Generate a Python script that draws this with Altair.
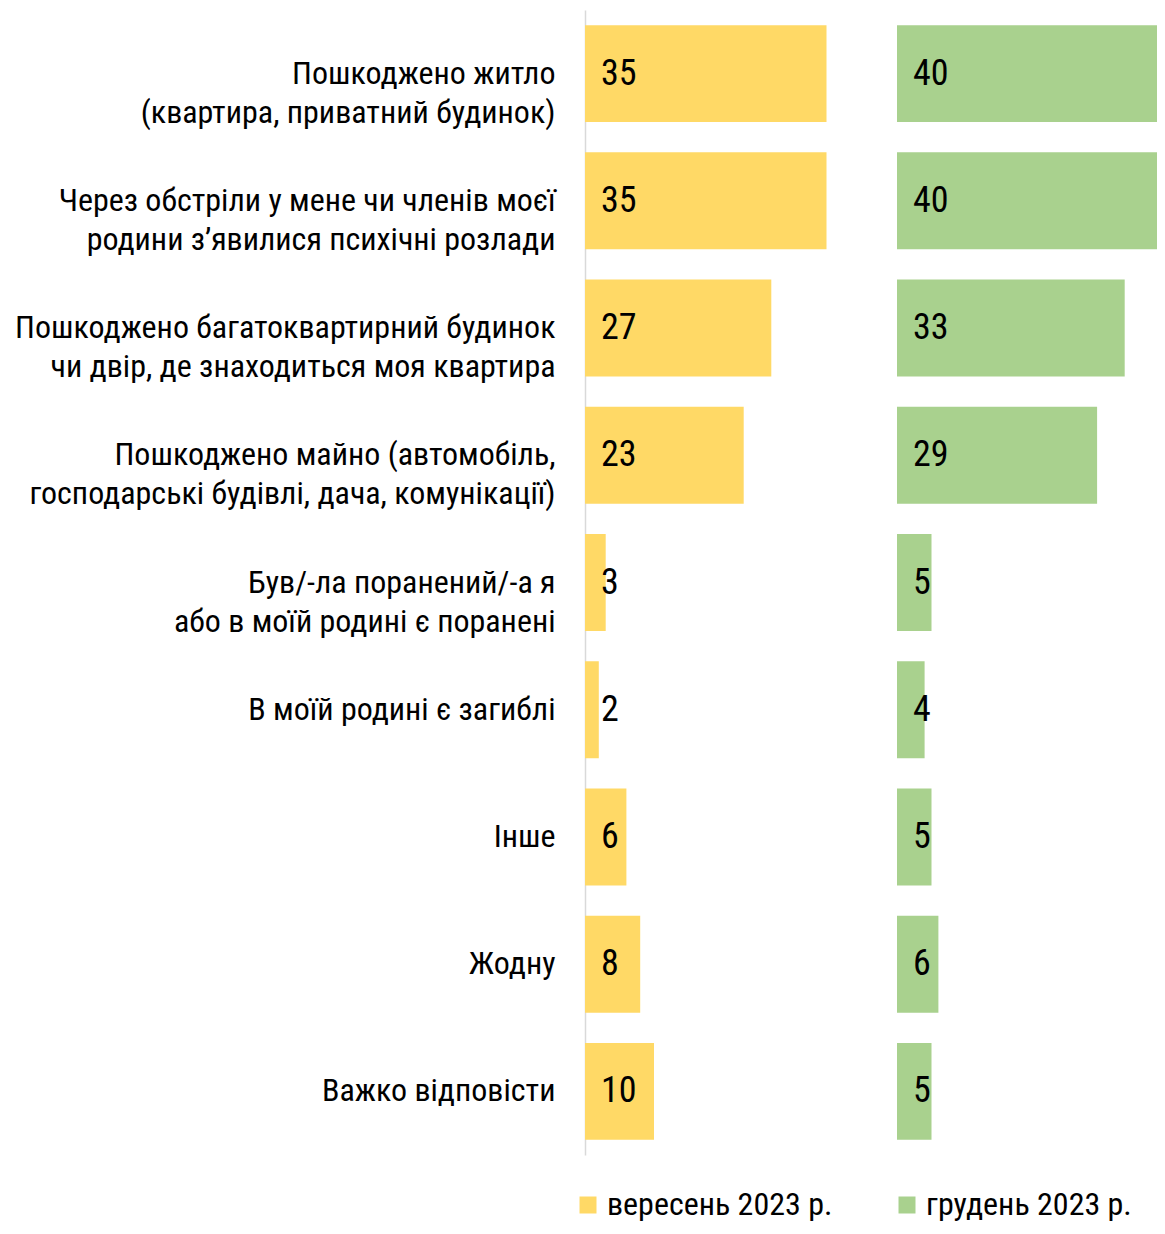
import altair as alt
import pandas as pd

categories = [
    "Пошкоджено житло\n(квартира, приватний будинок)",
    "Через обстріли у мене чи членів моєї\nродини з’явилися психічні розлади",
    "Пошкоджено багатоквартирний будинок\nчи двір, де знаходиться моя квартира",
    "Пошкоджено майно (автомобіль,\nгосподарські будівлі, дача, комунікації)",
    "Був/-ла поранений/-а я\nабо в моїй родині є поранені",
    "В моїй родині є загиблі",
    "Інше",
    "Жодну",
    "Важко відповісти",
]
september = [35, 35, 27, 23, 3, 2, 6, 8, 10]
december = [40, 40, 33, 29, 5, 4, 5, 6, 5]
periods = ["вересень 2023 р.", "грудень 2023 р."]
colors = ["#FFD966", "#A9D18E"]

rows = []
for c, s, d in zip(categories, september, december):
    rows.append({"category": c, "period": periods[0], "value": s, "panel": 0})
    rows.append({"category": c, "period": periods[1], "value": d, "panel": 1})
df = pd.DataFrame(rows)

FONT = "Liberation Sans Narrow, Roboto Condensed, Roboto, sans-serif"
PX_PER_UNIT = 6.9
PANEL_GAP_UNITS = 312 / PX_PER_UNIT   # where the second panel starts
PLOT_W = 572
PLOT_H = 1145

yscale = alt.Scale(domain=categories, paddingInner=0.238, paddingOuter=0.119)
xscale = alt.Scale(domain=[0, PLOT_W / PX_PER_UNIT], nice=False, zero=True)

color = alt.Color(
    "period:N",
    scale=alt.Scale(domain=periods, range=colors),
    legend=alt.Legend(
        orient="none", legendX=-13, legendY=1179, direction="horizontal",
        title=None, symbolType="square", symbolSize=289, symbolStrokeWidth=0,
        labelFontSize=32, labelFont=FONT, labelColor="#000", labelOffset=3,
        columnPadding=58, labelLimit=400, padding=0,
    ),
)

yaxis = alt.Axis(
    title=None, ticks=False, grid=False, domainColor="#D9D9D9", domainWidth=1.5,
    labelPadding=30, labelAlign="right", labelBaseline="middle",
    labelFont=FONT, labelFontSize=32, labelLineHeight=39, labelColor="#000",
    labelLimit=1000, labelExpr="split(datum.label, '\\n')",
)

base = alt.Chart(df).transform_calculate(
    start=f"datum.panel * {PANEL_GAP_UNITS}",
    end=f"datum.panel * {PANEL_GAP_UNITS} + datum.value",
)

bars = base.mark_bar(clip=True).encode(
    y=alt.Y("category:N", scale=yscale, axis=yaxis, sort=None),
    x=alt.X("start:Q", scale=xscale, axis=None),
    x2="end:Q",
    color=color,
)

text = base.mark_text(
    align="left", baseline="middle", dx=16, font=FONT, fontSize=36, color="#000"
).encode(
    y=alt.Y("category:N", scale=yscale, sort=None),
    x=alt.X("start:Q", scale=xscale),
    text="value:Q",
)

chart = alt.layer(bars, text).properties(
    width=PLOT_W, height=PLOT_H,
    autosize=alt.AutoSizeParams(type="none"),
    padding={"top": 2, "left": 577, "right": 0, "bottom": 71},
).configure_view(strokeWidth=0)

chart.save("out.html", embed_options={"renderer": "svg", "actions": False})
